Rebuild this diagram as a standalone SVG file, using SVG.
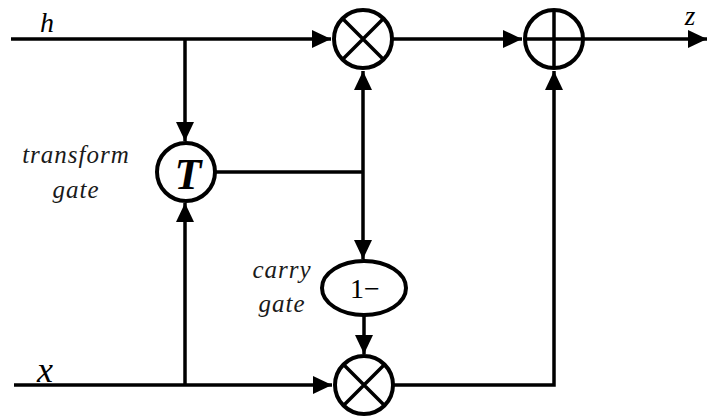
<svg xmlns="http://www.w3.org/2000/svg" width="708" height="419" viewBox="0 0 708 419">
<defs>
<marker id="ah" markerUnits="userSpaceOnUse" markerWidth="20" markerHeight="18" refX="19" refY="9" orient="auto">
<path d="M0,0 L19,9 L0,18 Z" fill="#000"/>
</marker>
<style>
.ln{fill:none;stroke:#000;stroke-width:3.5}
.nd{fill:#fff;stroke:#000;stroke-width:4}
.sym{fill:none;stroke:#000;stroke-width:3.5}
.lbl{font-style:italic;fill:#1a1a1a}
.var{font-style:italic;fill:#000}
</style>
</defs>
<rect width="708" height="419" fill="#fff"/>
<g id="connectors">
<path class="ln" d="M11,39 H331" marker-end="url(#ah)"/>
<path class="ln" d="M185,39 V141" marker-end="url(#ah)"/>
<path class="ln" d="M14,385 H332" marker-end="url(#ah)"/>
<path class="ln" d="M185,385 V203" marker-end="url(#ah)"/>
<path class="ln" d="M215,172 H363"/>
<path class="ln" d="M363,172 V71" marker-end="url(#ah)"/>
<path class="ln" d="M363,172 V259" marker-end="url(#ah)"/>
<path class="ln" d="M364,315 V354" marker-end="url(#ah)"/>
<path class="ln" d="M393,385 H554 V71" marker-end="url(#ah)"/>
<path class="ln" d="M392,39 H522" marker-end="url(#ah)"/>
<path class="ln" d="M583,39 H707" marker-end="url(#ah)"/>
</g>
<g id="mult-top">
<circle class="nd" cx="363" cy="39" r="29"/>
<path class="sym" d="M342.5,18.5 L383.5,59.5 M383.5,18.5 L342.5,59.5"/>
</g>
<g id="plus">
<circle class="nd" cx="554" cy="39" r="29"/>
<path class="sym" d="M554,10 V68 M525,39 H583"/>
</g>
<g id="transform">
<circle class="nd" cx="186" cy="172" r="29"/>
<text x="188" y="189" font-family="Liberation Serif" font-style="italic" font-weight="bold" font-size="44" text-anchor="middle">T</text>
</g>
<g id="carry">
<ellipse class="nd" cx="364" cy="288" rx="42" ry="27"/>
<text x="365" y="298" font-family="Liberation Serif" font-size="28" text-anchor="middle">1−</text>
</g>
<g id="mult-bottom">
<circle class="nd" cx="364" cy="385" r="29"/>
<path class="sym" d="M343.5,364.5 L384.5,405.5 M384.5,364.5 L343.5,405.5"/>
</g>
<g id="labels">
<text class="var" font-family="Liberation Serif" x="47" y="32" font-size="28" text-anchor="middle">h</text>
<text class="var" font-family="Liberation Serif" x="690" y="25" font-size="27" text-anchor="middle">z</text>
<text class="var" font-family="Liberation Serif" x="45" y="382" font-size="36" text-anchor="middle">x</text>
<text class="lbl" font-family="Liberation Serif" x="76" y="163" font-size="25" letter-spacing="1" text-anchor="middle">transform</text>
<text class="lbl" font-family="Liberation Serif" x="76" y="198" font-size="25" letter-spacing="1" text-anchor="middle">gate</text>
<text class="lbl" font-family="Liberation Serif" x="282" y="278" font-size="25" letter-spacing="1" text-anchor="middle">carry</text>
<text class="lbl" font-family="Liberation Serif" x="282" y="312" font-size="25" letter-spacing="1" text-anchor="middle">gate</text>
</g>
</svg>
